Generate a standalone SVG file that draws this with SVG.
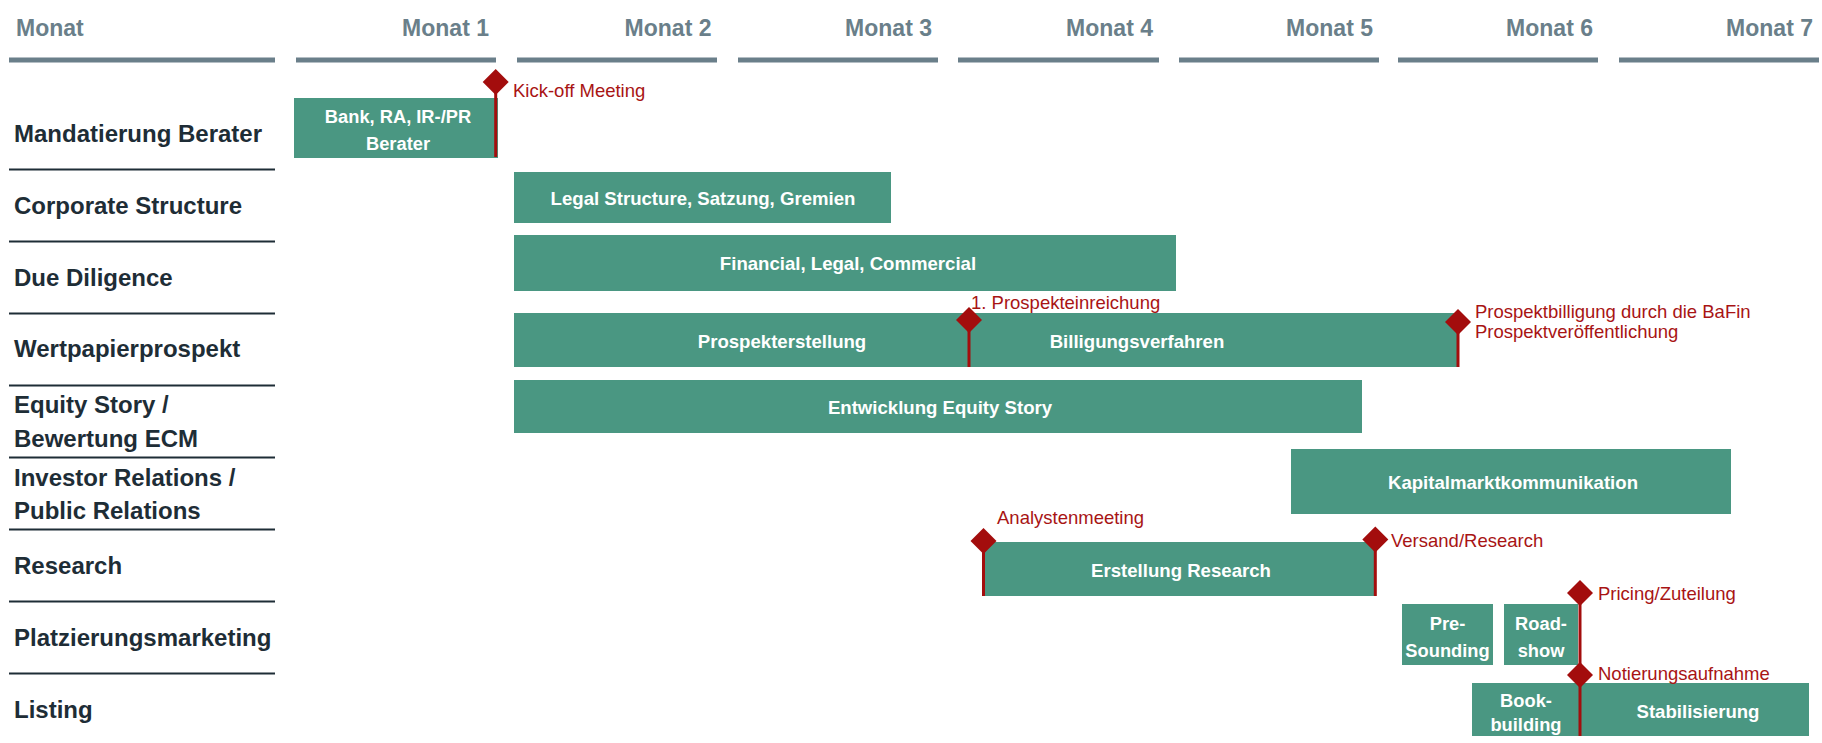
<svg xmlns="http://www.w3.org/2000/svg" width="1822" height="743" viewBox="0 0 1822 743">
<style>
.hd{font-family:"Liberation Sans",Arial,sans-serif;font-size:23px;font-weight:bold;fill:#6a7f8a}
.hl{fill:#6a7f8a}
.rl{font-family:"Liberation Sans",Arial,sans-serif;font-size:24px;font-weight:bold;fill:#1e2d36}
.sep{stroke:#1e2d36;stroke-width:2}
.bar{fill:#4a9782}
.bt{font-family:"Liberation Sans",Arial,sans-serif;font-size:18.6px;font-weight:bold;fill:#ffffff;text-anchor:middle}
.bt2{font-family:"Liberation Sans",Arial,sans-serif;font-size:18.3px;font-weight:bold;fill:#ffffff;text-anchor:middle}
.ms{fill:#a30d0d}
.stem{stroke:#a30d0d;stroke-width:3}
.mt{font-family:"Liberation Sans",Arial,sans-serif;font-size:18.5px;fill:#a81414}
</style>
<rect width="1822" height="743" fill="#ffffff"/>
<g id="header">
<text class="hd" x="16" y="36">Monat</text>
<text class="hd" x="489" y="36" text-anchor="end">Monat 1</text>
<text class="hd" x="711.5" y="36" text-anchor="end">Monat 2</text>
<text class="hd" x="932" y="36" text-anchor="end">Monat 3</text>
<text class="hd" x="1153" y="36" text-anchor="end">Monat 4</text>
<text class="hd" x="1373" y="36" text-anchor="end">Monat 5</text>
<text class="hd" x="1593" y="36" text-anchor="end">Monat 6</text>
<text class="hd" x="1813" y="36" text-anchor="end">Monat 7</text>
<rect class="hl" x="9" y="57.5" width="266" height="5"/>
<rect class="hl" x="296" y="57.5" width="200" height="5"/>
<rect class="hl" x="517" y="57.5" width="200" height="5"/>
<rect class="hl" x="738" y="57.5" width="200" height="5"/>
<rect class="hl" x="958" y="57.5" width="201" height="5"/>
<rect class="hl" x="1179" y="57.5" width="200" height="5"/>
<rect class="hl" x="1398" y="57.5" width="200" height="5"/>
<rect class="hl" x="1619" y="57.5" width="200" height="5"/>
</g>
<g id="row-labels">
<text class="rl" x="14" y="142">Mandatierung Berater</text>
<line class="sep" x1="9" y1="169.5" x2="275" y2="169.5"/>
<text class="rl" x="14" y="214">Corporate Structure</text>
<line class="sep" x1="9" y1="241.5" x2="275" y2="241.5"/>
<text class="rl" x="14" y="286">Due Diligence</text>
<line class="sep" x1="9" y1="313.5" x2="275" y2="313.5"/>
<text class="rl" x="14" y="357">Wertpapierprospekt</text>
<line class="sep" x1="9" y1="385.5" x2="275" y2="385.5"/>
<text class="rl" x="14" y="413">Equity Story /</text>
<text class="rl" x="14" y="446.5">Bewertung ECM</text>
<line class="sep" x1="9" y1="457.5" x2="275" y2="457.5"/>
<text class="rl" x="14" y="485.5">Investor Relations /</text>
<text class="rl" x="14" y="518.5">Public Relations</text>
<line class="sep" x1="9" y1="529.5" x2="275" y2="529.5"/>
<text class="rl" x="14" y="574">Research</text>
<line class="sep" x1="9" y1="601.5" x2="275" y2="601.5"/>
<text class="rl" x="14" y="646">Platzierungsmarketing</text>
<line class="sep" x1="9" y1="673.5" x2="275" y2="673.5"/>
<text class="rl" x="14" y="718">Listing</text>
</g>
<g id="bar-berater">
<rect class="bar" x="294" y="98" width="204" height="60"/>
<text class="bt2" x="398" y="123">Bank, RA, IR-/PR</text>
<text class="bt2" x="398" y="150">Berater</text>
</g>
<g id="bar-legal">
<rect class="bar" x="514" y="172" width="377" height="51"/>
<text class="bt" x="703" y="204.5">Legal Structure, Satzung, Gremien</text>
</g>
<g id="bar-dd">
<rect class="bar" x="514" y="235" width="662" height="56"/>
<text class="bt" x="848" y="270">Financial, Legal, Commercial</text>
</g>
<g id="bar-prospekt">
<rect class="bar" x="514" y="313" width="944" height="54"/>
<text class="bt" x="782" y="348">Prospekterstellung</text>
<text class="bt" x="1137" y="348">Billigungsverfahren</text>
</g>
<g id="bar-equity">
<rect class="bar" x="514" y="380" width="848" height="53"/>
<text class="bt" x="940" y="413.5">Entwicklung Equity Story</text>
</g>
<g id="bar-kapital">
<rect class="bar" x="1291" y="449" width="440" height="65"/>
<text class="bt" x="1513" y="489">Kapitalmarktkommunikation</text>
</g>
<g id="bar-research">
<rect class="bar" x="984" y="542" width="391" height="54"/>
<text class="bt" x="1181" y="577">Erstellung Research</text>
</g>
<g id="bar-presounding">
<rect class="bar" x="1402" y="604" width="91" height="61"/>
<text class="bt2" x="1447.5" y="630">Pre-</text>
<text class="bt2" x="1447.5" y="657">Sounding</text>
</g>
<g id="bar-roadshow">
<rect class="bar" x="1504" y="604" width="74" height="61"/>
<text class="bt2" x="1541" y="630">Road-</text>
<text class="bt2" x="1541" y="657">show</text>
</g>
<g id="bar-bookbuilding">
<rect class="bar" x="1472" y="683" width="108" height="53"/>
<text class="bt2" x="1526" y="707">Book-</text>
<text class="bt2" x="1526" y="731">building</text>
</g>
<g id="bar-stabilisierung">
<rect class="bar" x="1580" y="683" width="229" height="53"/>
<text class="bt" x="1698" y="718">Stabilisierung</text>
</g>
<g id="connectors"></g>
<g id="ms-kickoff">
<line class="stem" x1="495.7" y1="82" x2="495.7" y2="157"/>
<polygon class="ms" points="495.7,69 508.7,82 495.7,95 482.7,82"/>
<text class="mt" x="513" y="97">Kick-off Meeting</text>
</g>
<g id="ms-einreichung">
<line class="stem" x1="969" y1="320" x2="969" y2="367"/>
<polygon class="ms" points="969,307 982,320 969,333 956,320"/>
<text class="mt" x="971" y="309">1. Prospekteinreichung</text>
</g>
<g id="ms-billigung">
<line class="stem" x1="1458" y1="322" x2="1458" y2="367"/>
<polygon class="ms" points="1458,309 1471,322 1458,335 1445,322"/>
<text class="mt" x="1475" y="318">Prospektbilligung durch die BaFin</text>
<text class="mt" x="1475" y="338">Prospektveröffentlichung</text>
</g>
<g id="ms-analysten">
<line class="stem" x1="983.5" y1="541" x2="983.5" y2="596"/>
<polygon class="ms" points="983.5,528 996.5,541 983.5,554 970.5,541"/>
<text class="mt" x="997" y="524">Analystenmeeting</text>
</g>
<g id="ms-versand">
<line class="stem" x1="1375.3" y1="539.5" x2="1375.3" y2="596"/>
<polygon class="ms" points="1375.3,526.5 1388.3,539.5 1375.3,552.5 1362.3,539.5"/>
<text class="mt" x="1391" y="547">Versand/Research</text>
</g>
<g id="ms-pricing">
<line class="stem" x1="1580" y1="593" x2="1580" y2="665"/>
<polygon class="ms" points="1580,580 1593,593 1580,606 1567,593"/>
<text class="mt" x="1598" y="600">Pricing/Zuteilung</text>
</g>
<g id="ms-notierung">
<line class="stem" x1="1580" y1="675" x2="1580" y2="736"/>
<polygon class="ms" points="1580,662 1593,675 1580,688 1567,675"/>
<text class="mt" x="1598" y="680">Notierungsaufnahme</text>
</g>
</svg>
